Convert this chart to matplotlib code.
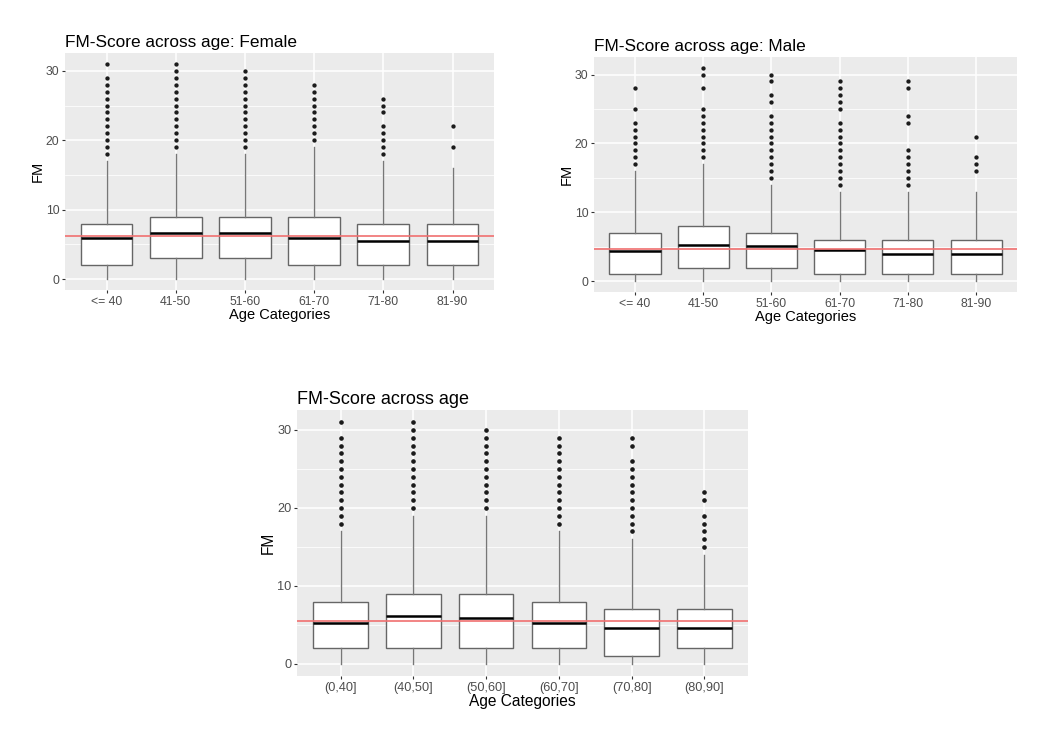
import numpy as np
import matplotlib.pyplot as plt

plt.rcParams["font.family"] = ["Liberation Sans", "DejaVu Sans"]

# Female panel
female_labels = ["<= 40", "41-50", "51-60", "61-70", "71-80", "81-90"]
female_q1 = [2, 3, 3, 2, 2, 2]
female_med = [6.0, 6.7, 6.6, 6.0, 5.5, 5.5]
female_q3 = [8, 9, 9, 9, 8, 8]
female_lo = [0, 0, 0, 0, 0, 0]
female_hi = [17, 18, 18, 19, 17, 16]
female_out = [
    [18, 19, 20, 21, 22, 23, 24, 25, 26, 27, 28, 29, 31],
    [19, 20, 21, 22, 23, 24, 25, 26, 27, 28, 29, 30, 31],
    [19, 20, 21, 22, 23, 24, 25, 26, 27, 28, 29, 30],
    [20, 21, 22, 23, 24, 25, 26, 27, 28],
    [18, 19, 20, 21, 22, 24, 25, 26],
    [19, 22],
]
female_mean = 6.2

# Male panel
male_labels = ["<= 40", "41-50", "51-60", "61-70", "71-80", "81-90"]
male_q1 = [1, 2, 2, 1, 1, 1]
male_med = [4.4, 5.2, 5.1, 4.5, 4.0, 4.0]
male_q3 = [7, 8, 7, 6, 6, 6]
male_lo = [0, 0, 0, 0, 0, 0]
male_hi = [16, 17, 14, 13, 13, 13]
male_out = [
    [17, 18, 19, 20, 21, 22, 23, 25, 28],
    [18, 19, 20, 21, 22, 23, 24, 25, 28, 30, 31],
    [15, 16, 17, 18, 19, 20, 21, 22, 23, 24, 26, 27, 29, 30],
    [14, 15, 16, 17, 18, 19, 20, 21, 22, 23, 25, 26, 27, 28, 29],
    [14, 15, 16, 17, 18, 19, 23, 24, 28, 29],
    [16, 17, 18, 21],
]
male_mean = 4.7

# All subjects
all_labels = ["(0,40]", "(40,50]", "(50,60]", "(60,70]", "(70,80]", "(80,90]"]
all_q1 = [2, 2, 2, 2, 1, 2]
all_med = [5.3, 6.1, 5.9, 5.2, 4.6, 4.6]
all_q3 = [8, 9, 9, 8, 7, 7]
all_lo = [0, 0, 0, 0, 0, 0]
all_hi = [17, 19, 19, 17, 16, 14]
all_out = [
    [18, 19, 20, 21, 22, 23, 24, 25, 26, 27, 28, 29, 31],
    [20, 21, 22, 23, 24, 25, 26, 27, 28, 29, 30, 31],
    [20, 21, 22, 23, 24, 25, 26, 27, 28, 29, 30],
    [18, 19, 20, 21, 22, 23, 24, 25, 26, 27, 28, 29],
    [17, 18, 19, 20, 21, 22, 23, 24, 25, 26, 28, 29],
    [15, 16, 17, 18, 19, 21, 22],
]
all_mean = 5.5


def draw_panel(ax, title, labels, q1, med, q3, lo, hi, out, mean,
               title_size=12.4, label_size=10.5, tick_size=8.8, dot=2.1):
    stats = []
    for i in range(len(labels)):
        stats.append({"med": med[i], "q1": q1[i], "q3": q3[i],
                      "whislo": lo[i], "whishi": hi[i], "fliers": out[i]})
    ax.set_facecolor("#EBEBEB")
    for s in ax.spines.values():
        s.set_visible(False)
    ax.set_axisbelow(True)
    ax.set_yticks([0, 10, 20, 30])
    ax.set_yticks([5, 15, 25], minor=True)
    ax.grid(True, which="major", color="white", linewidth=1.1)
    ax.grid(True, which="minor", axis="y", color="white", linewidth=0.55)
    ax.tick_params(axis="x", which="minor", bottom=False)
    ax.bxp(stats, positions=np.arange(1, len(labels) + 1), widths=0.75,
           patch_artist=True, showcaps=False,
           boxprops=dict(facecolor="white", edgecolor="#666666", linewidth=1.0),
           whiskerprops=dict(color="#777777", linewidth=1.0),
           medianprops=dict(color="black", linewidth=1.8),
           flierprops=dict(marker="o", markerfacecolor="#1a1a1a",
                           markeredgecolor="#1a1a1a", markersize=dot))
    ax.axhline(mean, color="#F07070", linewidth=1.2, zorder=5)
    ax.set_xlim(0.4, len(labels) + 0.6)
    ax.set_ylim(-1.55, 32.55)
    ax.set_xticks(np.arange(1, len(labels) + 1))
    ax.set_xticklabels(labels)
    ax.tick_params(which="major", length=2.5, pad=1.5, color="#333333",
                   labelcolor="#4D4D4D", labelsize=tick_size)
    ax.tick_params(which="minor", left=False)
    ax.set_xlabel("Age Categories", fontsize=label_size, labelpad=0)
    ax.set_ylabel("FM", fontsize=label_size, labelpad=1)
    ax.set_title(title, loc="left", fontsize=title_size, pad=4)


fig = plt.figure(figsize=(10.5, 7.44), dpi=100)
ax1 = fig.add_axes([0.0619, 0.6102, 0.4086, 0.3185])
ax2 = fig.add_axes([0.5657, 0.6075, 0.4029, 0.3159])
ax3 = fig.add_axes([0.2829, 0.0914, 0.4295, 0.3575])

draw_panel(ax1, "FM-Score across age: Female", female_labels, female_q1, female_med,
           female_q3, female_lo, female_hi, female_out, female_mean)
draw_panel(ax2, "FM-Score across age: Male", male_labels, male_q1, male_med,
           male_q3, male_lo, male_hi, male_out, male_mean)
draw_panel(ax3, "FM-Score across age", all_labels, all_q1, all_med,
           all_q3, all_lo, all_hi, all_out, all_mean,
           title_size=13, label_size=11.2, tick_size=9.2, dot=2.3)

fig.savefig("out.png", dpi=100)
